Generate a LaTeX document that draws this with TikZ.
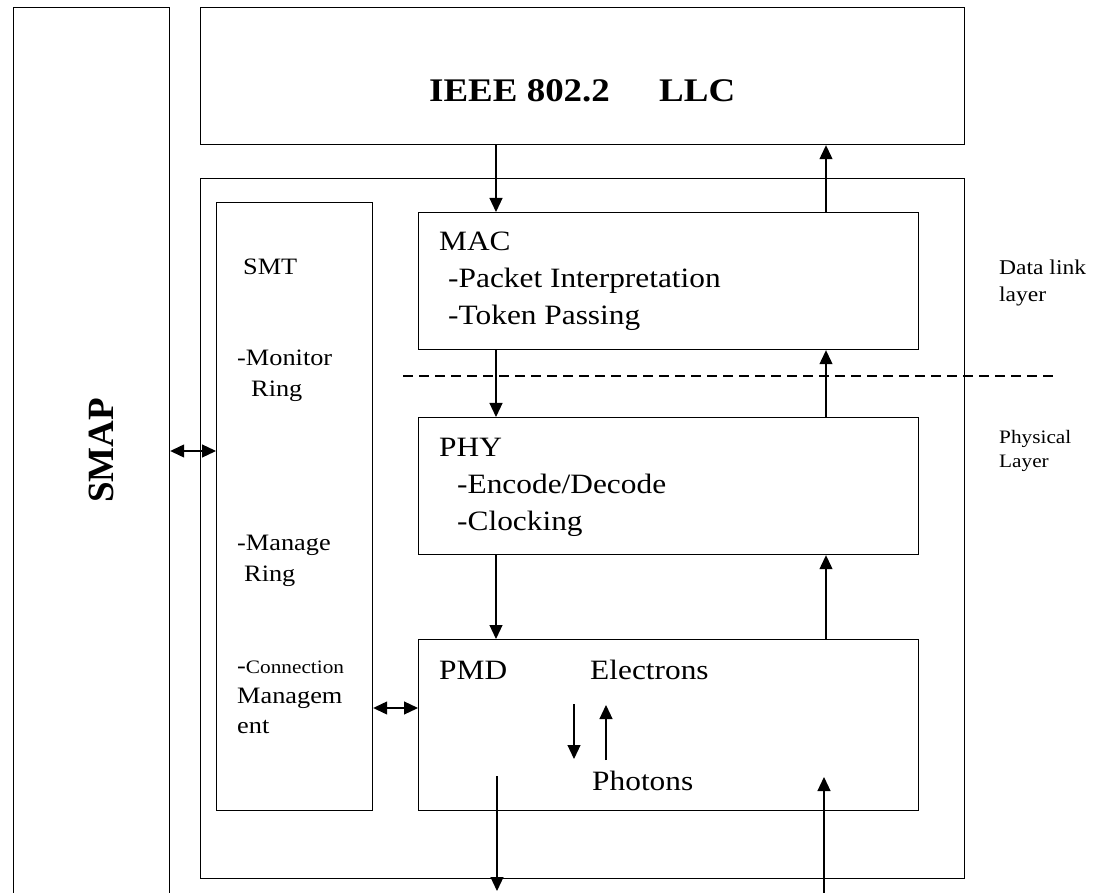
\documentclass[tikz,border=0pt]{standalone}
\usepackage{fontspec}
\setmainfont{Liberation Serif}[FakeStretch=1.12]
\newfontfamily\plainserif{Liberation Serif}
\usetikzlibrary{arrows.meta}
\newcommand\myfs[1]{\fontsize{#1}{#1}\selectfont}
\begin{document}
\begin{tikzpicture}[x=1pt,y=-1pt,
  box/.style={draw,line width=1.2pt,rectangle,inner sep=0pt,anchor=north west},
  txt/.style={anchor=base west,inner sep=0pt,font=\myfs{28}},
  col/.style={anchor=base west,inner sep=0pt,font=\myfs{23.5}},
  side/.style={anchor=base west,inner sep=0pt},
  arr/.style={line width=1.2pt,-{Triangle[width=13pt,length=14pt]}},
  darr/.style={line width=1.2pt,{Triangle[width=13pt,length=14pt]}-{Triangle[width=13pt,length=14pt]}},
  sep/.style={line width=1.2pt,dash pattern=on 10pt off 6pt}
]
\clip (0,0) rectangle (1101,893);
\fill[white] (0,0) rectangle (1101,893);

% boxes
\node[box,minimum width=156pt,minimum height=950pt] (smap) at (13,7) {};
\node[box,minimum width=764pt,minimum height=137pt] (llc) at (200,7) {};
\node[box,minimum width=764pt,minimum height=700pt] (outer) at (200,178) {};
\node[box,minimum width=156pt,minimum height=608pt] (smt) at (216,202) {};
\node[box,minimum width=500pt,minimum height=137pt] (mac) at (418,212) {};
\node[box,minimum width=500pt,minimum height=137pt] (phy) at (418,417) {};
\node[box,minimum width=500pt,minimum height=171pt] (pmd) at (418,639) {};

% texts
\node[anchor=base west,inner sep=0pt,font=\myfs{33}\bfseries] (tllca) at (429,102) {IEEE 802.2};
\node[anchor=base west,inner sep=0pt,font=\myfs{33}\bfseries] (tllcb) at (659,102) {LLC};
\node[anchor=base west,inner sep=0pt,rotate=90,font=\plainserif\myfs{37}\bfseries] (tsmap) at (113,503) {SMAP};

\node[col] (tsmt) at (243,275) {SMT};
\node[col] (tmon) at (237,366) {-Monitor};
\node[col] (tring1) at (251,397) {Ring};
\node[col] (tman) at (237,550) {-Manage};
\node[col] (tring2) at (244,581) {Ring};
\node[col] (tcon) at (237,673) {-{\myfs{19}Connection}};
\node[col] (tmgm) at (237,703) {Managem};
\node[col] (tent) at (237,733) {ent};

\node[txt] (tmac) at (439,251) {MAC};
\node[txt] (tmac1) at (448,288) {-Packet Interpretation};
\node[txt] (tmac2) at (448,325) {-Token Passing};
\node[txt] (tphy) at (439,456) {PHY};
\node[txt] (tphy1) at (457,493) {-Encode/Decode};
\node[txt] (tphy2) at (457,530) {-Clocking};
\node[txt] (tpmd) at (439,679) {PMD};
\node[txt] (telec) at (590,679) {Electrons};
\node[txt] (tphot) at (592,790) {Photons};

\node[side,font=\myfs{21}] (tdl1) at (999,275) {Data link};
\node[side,font=\myfs{21}] (tdl2) at (999,302) {layer};
\node[side,font=\myfs{19}] (tph1) at (999,443) {Physical};
\node[side,font=\myfs{19}] (tph2) at (999,467) {Layer};

% dashed separator
\coordinate (dl) at (403,376);
\coordinate (dr) at (1053,376);
\draw[sep] (dl) -- (dr);

% vertical connectors
\coordinate (xd) at (496,0);
\coordinate (xu) at (826,0);
\draw[arr] (llc.south -| xd) -- (mac.north -| xd);
\draw[arr] (mac.north -| xu) -- (llc.south -| xu);
\draw[arr] (mac.south -| xd) -- (phy.north -| xd);
\draw[arr] (phy.north -| xu) -- (mac.south -| xu);
\draw[arr] (phy.south -| xd) -- (pmd.north -| xd);
\draw[arr] (pmd.north -| xu) -- (phy.south -| xu);

\coordinate (po) at (497,776);
\coordinate (bo) at (497,891);
\draw[arr] (po) -- (bo);
\coordinate (bi) at (824,900);
\coordinate (pi) at (824,777);
\draw[arr] (bi) -- (pi);

\coordinate (ed1) at (574,704);
\coordinate (ed2) at (574,759);
\draw[arr] (ed1) -- (ed2);
\coordinate (eu1) at (606,760);
\coordinate (eu2) at (606,705);
\draw[arr] (eu1) -- (eu2);

% horizontal double arrows
\coordinate (ya) at (0,451);
\coordinate (yb) at (0,708);
\draw[darr] (smap.east |- ya) -- (smt.west |- ya);
\draw[darr] (smt.east |- yb) -- (pmd.west |- yb);
\end{tikzpicture}
\end{document}
